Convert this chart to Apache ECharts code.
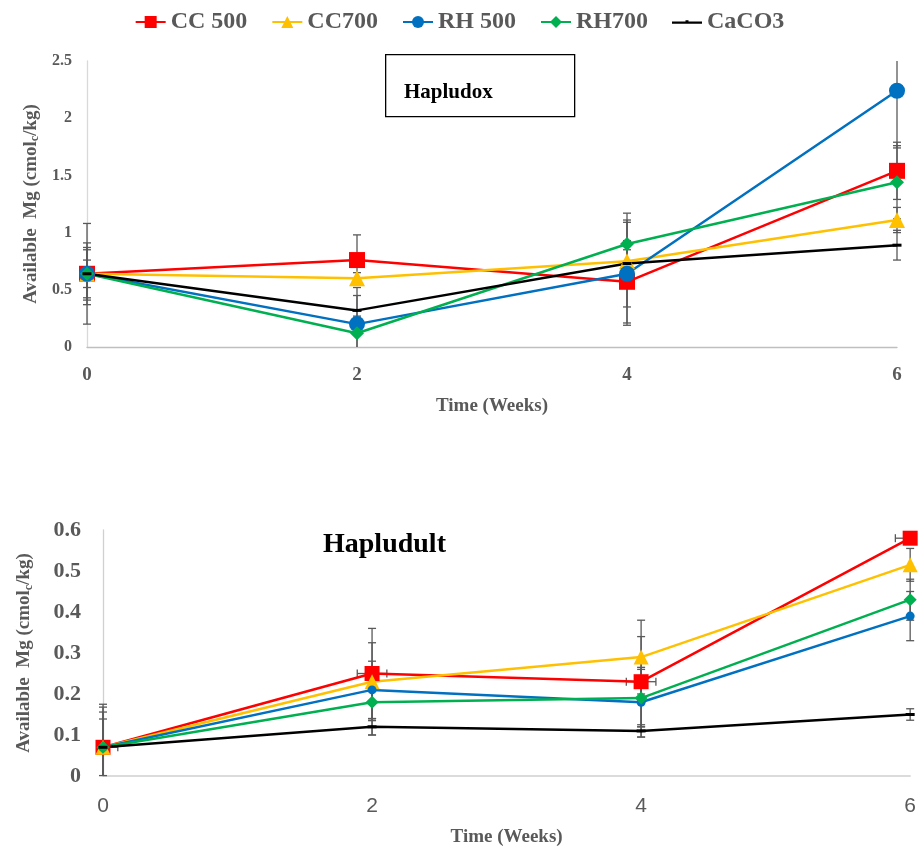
<!DOCTYPE html>
<html>
<head>
<meta charset="utf-8">
<script src="https://cdn.jsdelivr.net/npm/echarts@6/dist/echarts.min.js"></script>
<style>
html,body{margin:0;padding:0;background:#fff;}
#main{width:919px;height:851px;}
</style>
</head>
<body>
<div id="main"></div>
<script>
// ---------- DATA ----------
var weeks = [0, 2, 4, 6];
var seriesNames = ['CC 500', 'CC700', 'RH 500', 'RH700', 'CaCO3'];

// Hapludox (top)
var cc500_ox = [0.64, 0.76, 0.57, 1.54];
var cc700_ox = [0.64, 0.60, 0.75, 1.11];
var rh500_ox = [0.64, 0.20, 0.64, 2.24];
var rh700_ox = [0.64, 0.12, 0.90, 1.44];
var caco3_ox = [0.64, 0.32, 0.73, 0.89];
var cc500_ox_err = [0.44, 0.22, 0.36, 0.25];
var cc700_ox_err = [0.27, 0.05, 0.10, 0.11];
var rh500_ox_err = [0.21, 0.25, 0.45, 0.50];
var rh700_ox_err = [0.23, 0.15, 0.27, 0.32];
var caco3_ox_err = [0.12, 0.20, 0.38, 0.13];

// Hapludult (bottom)
var cc500_ult = [0.07, 0.25, 0.23, 0.58];
var cc700_ult = [0.07, 0.23, 0.29, 0.515];
var rh500_ult = [0.07, 0.21, 0.18, 0.39];
var rh700_ult = [0.07, 0.18, 0.19, 0.43];
var caco3_ult = [0.07, 0.12, 0.11, 0.15];
var cc500_ult_err = [0.105, 0.11, 0.11, 0.015];
var cc700_ult_err = [0.098, 0.095, 0.09, 0.04];
var rh500_ult_err = [0.086, 0.07, 0.085, 0.06];
var rh700_ult_err = [0.069, 0.08, 0.07, 0.05];
var caco3_ult_err = [0.01, 0.02, 0.015, 0.014];
var cc500_ult_xerr = [0.11, 0.11, 0.11, 0.11];

var oxTicks = {min: 0, max: 2.5, interval: 0.5};
var ultTicks = {min: 0, max: 0.6, interval: 0.1};
var weekTicks = {min: 0, max: 6, interval: 2};

// ---------- STYLE ----------
var colors = ['#ff0000', '#ffc000', '#0070c0', '#00b050', '#000000'];
var symbols = ['rect', 'triangle', 'circle', 'diamond', 'rect'];
var symTop = [16, 16, 16, 14, [9, 3]];
var symBot = [15, 15, 9, 13, [9, 3]];
var gray = '#595959';
var serif = '"Liberation Serif", "Times New Roman", serif';

var oxVals = [cc500_ox, cc700_ox, rh500_ox, rh700_ox, caco3_ox];
var oxErr = [cc500_ox_err, cc700_ox_err, rh500_ox_err, rh700_ox_err, caco3_ox_err];
var ultVals = [cc500_ult, cc700_ult, rh500_ult, rh700_ult, caco3_ult];
var ultErr = [cc500_ult_err, cc700_ult_err, rh500_ult_err, rh700_ult_err, caco3_ult_err];
var ultXErr = [cc500_ult_xerr, null, null, null, null];

function errData(vals, errs, xerrs) {
  var d = [];
  for (var s = 0; s < vals.length; s++) {
    for (var i = 0; i < weeks.length; i++) {
      d.push([weeks[i], vals[s][i], errs[s][i], xerrs && xerrs[s] ? xerrs[s][i] : 0]);
    }
  }
  return d;
}

function makeRender(yMin, yMax, xMin, xMax) {
  return function (params, api) {
    var x = api.value(0), y = api.value(1), e = api.value(2), xe = api.value(3);
    var hi = y + e, lo = y - e;
    var hiC = Math.min(hi, yMax), loC = Math.max(lo, yMin);
    var pHi = api.coord([x, hiC]);
    var pLo = api.coord([x, loC]);
    var cap = 4;
    var st = {stroke: gray, lineWidth: 1.3};
    var ch = [{type: 'line', shape: {x1: pHi[0], y1: pHi[1], x2: pLo[0], y2: pLo[1]}, style: st}];
    if (hi <= yMax) ch.push({type: 'line', shape: {x1: pHi[0] - cap, y1: pHi[1], x2: pHi[0] + cap, y2: pHi[1]}, style: st});
    if (lo >= yMin) ch.push({type: 'line', shape: {x1: pLo[0] - cap, y1: pLo[1], x2: pLo[0] + cap, y2: pLo[1]}, style: st});
    if (xe > 0) {
      var l = Math.max(x - xe, xMin), r = Math.min(x + xe, xMax);
      var pl = api.coord([l, y]), pr = api.coord([r, y]);
      ch.push({type: 'line', shape: {x1: pl[0], y1: pl[1], x2: pr[0], y2: pr[1]}, style: st});
      if (x - xe >= xMin) ch.push({type: 'line', shape: {x1: pl[0], y1: pl[1] - cap, x2: pl[0], y2: pl[1] + cap}, style: st});
      if (x + xe <= xMax) ch.push({type: 'line', shape: {x1: pr[0], y1: pr[1] - cap, x2: pr[0], y2: pr[1] + cap}, style: st});
    }
    return {type: 'group', children: ch};
  };
}

var yName = '{t|Available  Mg (cmol}{s|c}{t|/kg)}';
var yRich = {
  t: {fontFamily: serif, fontWeight: 'bold', fontSize: 19, color: gray, lineHeight: 22},
  s: {fontFamily: serif, fontWeight: 'bold', fontSize: 12, color: gray, lineHeight: 22, padding: [9, 0, 0, 0]}
};

var series = [];
series.push({type: 'custom', xAxisIndex: 0, yAxisIndex: 0, z: 1, silent: true,
  renderItem: makeRender(oxTicks.min, oxTicks.max, weekTicks.min, weekTicks.max),
  data: errData(oxVals, oxErr, null)});
series.push({type: 'custom', xAxisIndex: 1, yAxisIndex: 1, z: 1, silent: true,
  renderItem: makeRender(ultTicks.min, ultTicks.max, weekTicks.min, weekTicks.max),
  data: errData(ultVals, ultErr, ultXErr)});

for (var s = 0; s < 5; s++) {
  series.push({
    name: seriesNames[s], type: 'line', xAxisIndex: 0, yAxisIndex: 0, z: 3,
    data: weeks.map(function (w, i) { return [w, oxVals[s][i]]; }),
    symbol: symbols[s], symbolSize: symTop[s],
    lineStyle: {color: colors[s], width: 2.5},
    itemStyle: {color: colors[s]},
    animation: false
  });
  series.push({
    name: seriesNames[s], type: 'line', xAxisIndex: 1, yAxisIndex: 1, z: 3,
    data: weeks.map(function (w, i) { return [w, ultVals[s][i]]; }),
    symbol: symbols[s], symbolSize: symBot[s],
    lineStyle: {color: colors[s], width: 2.5},
    itemStyle: {color: colors[s]},
    animation: false
  });
}

var legendData = seriesNames.map(function (n, i) {
  if (i === 4) {
    return {name: n, icon: 'path://M0,6.8 L30,6.8 L30,9.2 L0,9.2 Z M13.5,5.5 L16.5,5.5 L16.5,9.2 L13.5,9.2 Z'};
  }
  return {name: n};
});

var chart = echarts.init(document.getElementById('main'), null, {renderer: 'canvas'});
chart.setOption({
  backgroundColor: '#fff',
  animation: false,
  legend: {
    data: legendData, top: 5, left: 'center', itemWidth: 30, itemHeight: 15, itemGap: 24,
    textStyle: {fontFamily: serif, fontWeight: 'bold', fontSize: 24, color: gray}
  },
  grid: [
    {left: 87, right: 22, top: 61, bottom: 504},
    {left: 103, right: 4, top: 530, bottom: 75}
  ],
  xAxis: [
    {type: 'value', gridIndex: 0, min: weekTicks.min, max: weekTicks.max, interval: weekTicks.interval,
     axisLine: {lineStyle: {color: '#bfbfbf', width: 1.3}}, axisTick: {show: false}, splitLine: {show: false},
     axisLabel: {fontFamily: serif, fontWeight: 'bold', fontSize: 19, color: gray, margin: 19},
     name: 'Time (Weeks)', nameLocation: 'middle', nameGap: 50,
     nameTextStyle: {fontFamily: serif, fontWeight: 'bold', fontSize: 19, color: gray}},
    {type: 'value', gridIndex: 1, min: weekTicks.min, max: weekTicks.max, interval: weekTicks.interval,
     axisLine: {lineStyle: {color: '#d0d0d0', width: 1.5}}, axisTick: {show: false}, splitLine: {show: false},
     axisLabel: {fontFamily: '"Liberation Sans", Arial, sans-serif', fontSize: 21, color: gray, margin: 20},
     name: 'Time (Weeks)', nameLocation: 'middle', nameGap: 52,
     nameTextStyle: {fontFamily: serif, fontWeight: 'bold', fontSize: 19, color: gray}}
  ],
  yAxis: [
    {type: 'value', gridIndex: 0, min: oxTicks.min, max: oxTicks.max, interval: oxTicks.interval,
     axisLine: {show: true, lineStyle: {color: '#d9d9d9', width: 1.3}}, axisTick: {show: false}, splitLine: {show: false},
     axisLabel: {fontFamily: serif, fontWeight: 'bold', fontSize: 16, color: gray, margin: 15},
     name: yName, nameLocation: 'middle', nameGap: 38, nameRotate: 90,
     nameTextStyle: {rich: yRich}},
    {type: 'value', gridIndex: 1, min: ultTicks.min, max: ultTicks.max, interval: ultTicks.interval,
     axisLine: {show: true, lineStyle: {color: '#d0d0d0', width: 1.3}}, axisTick: {show: false}, splitLine: {show: false},
     axisLabel: {fontFamily: serif, fontWeight: 'bold', fontSize: 22, color: gray, margin: 22},
     name: yName, nameLocation: 'middle', nameGap: 68, nameRotate: 90,
     nameTextStyle: {rich: yRich}}
  ],
  graphic: [
    {type: 'rect', left: 385, top: 54, shape: {width: 189, height: 62},
     style: {fill: '#fff', stroke: '#000', lineWidth: 1.3}, z: 0},
    {type: 'text', left: 404, top: 82,
     style: {text: 'Hapludox', font: 'bold 21px ' + serif, fill: '#000'}, z: 10},
    {type: 'text', left: 323, top: 531,
     style: {text: 'Hapludult', font: 'bold 28px ' + serif, fill: '#000'}, z: 10}
  ],
  series: series
});
</script>
</body>
</html>
